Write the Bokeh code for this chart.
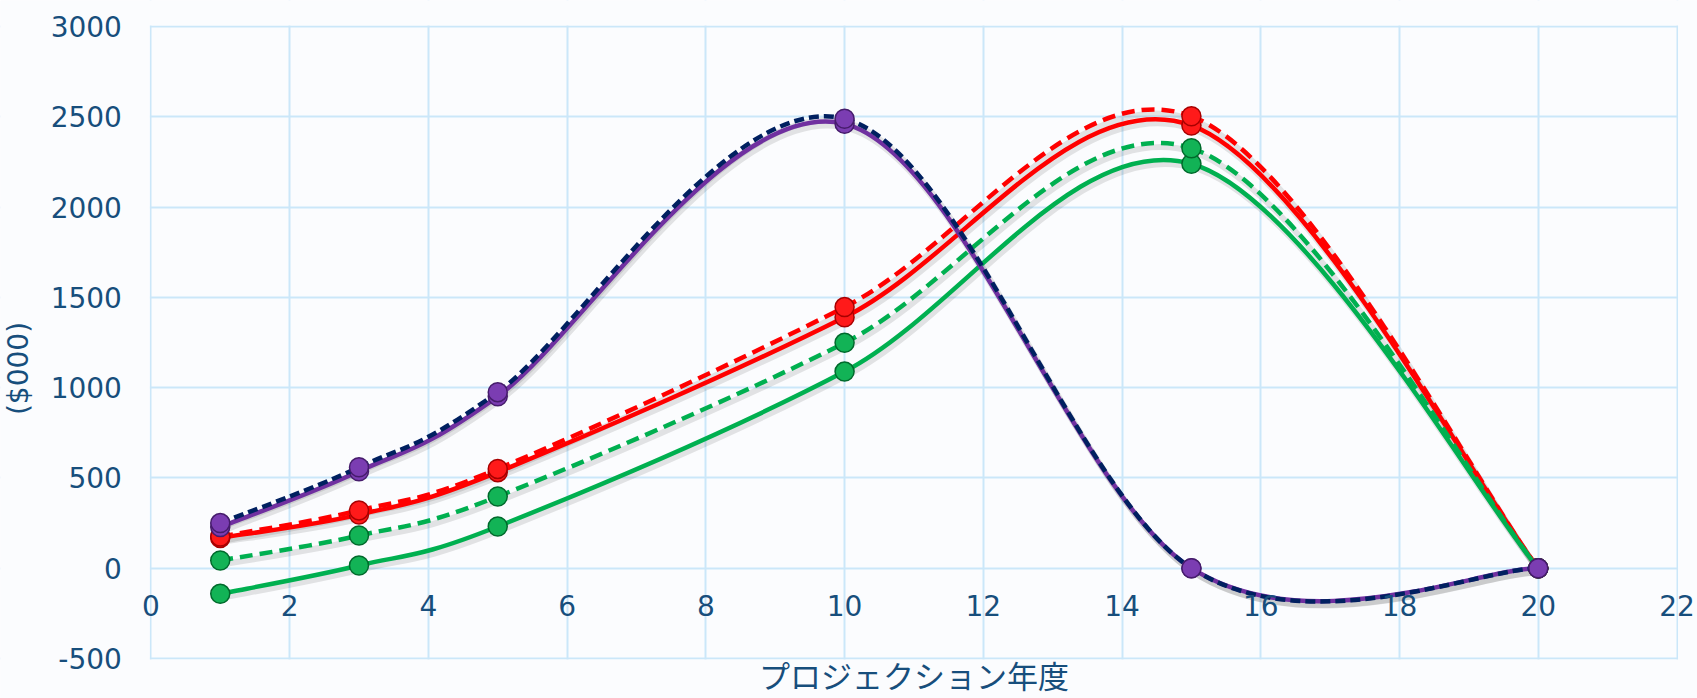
import math
from bokeh.plotting import figure
from bokeh.models import Range1d, FixedTicker, BoxAnnotation, Label
from bokeh.embed import file_html
from bokeh.resources import INLINE

# ---- data ----
years = [1, 3, 5, 10, 15, 20]
red_solid = [168, 297, 532, 1390, 2452, 0]
red_dashed = [175, 320, 550, 1446, 2503, 0]
green_solid = [-142, 15, 231, 1089, 2240, 0]
green_dashed = [43, 181, 397, 1248, 2326, 0]
purple_solid = [228, 537, 952, 2461, 0, 0]
navy_dashed = [250, 559, 975, 2489, 0, 0]
x_ticks = list(range(0, 23, 2))
y_ticks = list(range(-500, 3001, 500))
y_tick_text = {v: str(v) for v in y_ticks}
x_title = "プロジェクション年度"
y_title = "($000)"

TEXT = "#174E7C"
GRID = "#CBE7F9"
BG = "#FBFCFE"

X_LO, X_HI = x_ticks[0], x_ticks[-1]
Y_LO, Y_HI = y_ticks[0], y_ticks[-1]


def smooth_segments(xs, ys, dx=0.0, dy=0.0):
    """Catmull-Rom style smoothing (spreadsheet 'smoothed line') as cubic Bezier segments."""
    pts = [(x + dx, y + dy) for x, y in zip(xs, ys)]
    n = len(pts)
    d = dict(x0=[], y0=[], x1=[], y1=[], cx0=[], cy0=[], cx1=[], cy1=[])
    for i in range(n - 1):
        p0 = pts[i - 1] if i > 0 else pts[i]
        p1 = pts[i]
        p2 = pts[i + 1]
        p3 = pts[i + 2] if i + 2 < n else pts[i + 1]
        d["x0"].append(p1[0]); d["y0"].append(p1[1])
        d["x1"].append(p2[0]); d["y1"].append(p2[1])
        d["cx0"].append(p1[0] + (p2[0] - p0[0]) / 6.0)
        d["cy0"].append(p1[1] + (p2[1] - p0[1]) / 6.0)
        d["cx1"].append(p2[0] - (p3[0] - p1[0]) / 6.0)
        d["cy1"].append(p2[1] - (p3[1] - p1[1]) / 6.0)
    return d


# the frame fills the whole canvas; the 0..22 x -500..3000 band sits inside it
p = figure(width=1697, height=698, output_backend="svg", toolbar_location=None,
           x_range=Range1d(-2.168, 22.2955), y_range=Range1d(-721.5, 3144),
           min_border_left=0, min_border_right=0, min_border_top=0,
           min_border_bottom=0)
p.background_fill_color = BG
p.border_fill_color = BG
p.outline_line_color = None

p.xgrid.ticker = FixedTicker(ticks=x_ticks)
p.ygrid.ticker = FixedTicker(ticks=y_ticks)
for g in (p.xgrid, p.ygrid):
    g.grid_line_color = GRID
    g.grid_line_width = 2
    g.level = "image"

# mask the grid outside the plotting band
mask = dict(fill_color=BG, fill_alpha=1.0, line_color=None, level="underlay")
p.add_layout(BoxAnnotation(right=X_LO - 0.015, **mask))
p.add_layout(BoxAnnotation(left=X_HI + 0.015, **mask))
p.add_layout(BoxAnnotation(top=Y_LO - 6, **mask))
p.add_layout(BoxAnnotation(bottom=Y_HI + 6, **mask))

p.xaxis.ticker = FixedTicker(ticks=x_ticks)
p.yaxis.ticker = FixedTicker(ticks=y_ticks)
p.yaxis.major_label_overrides = y_tick_text
p.xaxis.fixed_location = 0
p.yaxis.fixed_location = 0
for ax in (p.xaxis, p.yaxis):
    ax.axis_line_color = None
    ax.major_tick_line_color = None
    ax.minor_tick_line_color = None
    ax.major_tick_out = 0
    ax.major_tick_in = 0
    ax.minor_tick_out = 0
    ax.minor_tick_in = 0
    ax.major_label_text_color = TEXT
    ax.major_label_text_font = "DejaVu Sans"
    ax.major_label_text_font_size = "28px"
p.xaxis.major_label_standoff = 27
p.yaxis.major_label_standoff = 29

# axis titles (screen units measured from the frame's bottom-left corner)
p.add_layout(Label(x=11, y=24, x_units="data", y_units="screen", text=x_title,
                   text_font="Noto Sans CJK JP", text_font_size="31px",
                   text_color=TEXT, text_align="center", text_baseline="middle"))
p.add_layout(Label(x=18, y=330, x_units="screen", y_units="screen", text=y_title,
                   angle=math.pi / 2, text_font="DejaVu Sans", text_font_size="28px",
                   text_color=TEXT, text_align="center", text_baseline="middle"))

series = [
    (red_solid, "#FF0000", None, "#FF1A1A", "#A80000"),
    (red_dashed, "#FF0000", "13 7", "#FF1A1A", "#A80000"),
    (green_solid, "#00B050", None, "#12B356", "#006A2C"),
    (green_dashed, "#00B050", "13 7", "#12B356", "#006A2C"),
    (purple_solid, "#7030A0", None, "#7B3DB2", "#461C6C"),
    (navy_dashed, "#002060", "10 5", "#7B3DB2", "#461C6C"),
]

# soft drop shadows under the lines (offset a few pixels down/right)
for vals, col, dash, mfill, medge in series:
    sh = smooth_segments(years, vals, dx=0.03, dy=-22)
    p.bezier(x0=sh["x0"], y0=sh["y0"], x1=sh["x1"], y1=sh["y1"],
             cx0=sh["cx0"], cy0=sh["cy0"], cx1=sh["cx1"], cy1=sh["cy1"],
             line_color="#000000", line_alpha=0.10, line_width=6)

for vals, col, dash, mfill, medge in series:
    seg = smooth_segments(years, vals)
    kw = dict(line_color=col, line_width=4.5)
    if dash:
        kw["line_dash"] = dash
    p.bezier(x0=seg["x0"], y0=seg["y0"], x1=seg["x1"], y1=seg["y1"],
             cx0=seg["cx0"], cy0=seg["cy0"], cx1=seg["cx1"], cy1=seg["cy1"], **kw)
    p.scatter(years, vals, size=19, fill_color=mfill, line_color=medge, line_width=1.5)

open("out.html", "w").write(file_html(p, INLINE))
